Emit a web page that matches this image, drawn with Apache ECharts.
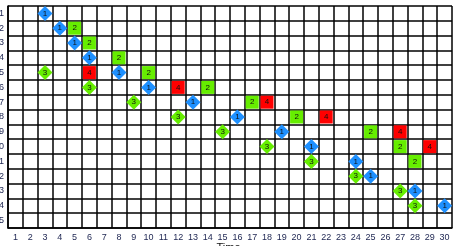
<!DOCTYPE html>
<html><head><meta charset="utf-8">
<script src="https://cdn.jsdelivr.net/npm/echarts@6/dist/echarts.min.js"></script>
<style>html,body{margin:0;padding:0;background:#fff}#c{width:457px;height:246px}</style>
</head><body><div id="c"></div>
<script>
const xLabels = ['1','2','3','4','5','6','7','8','9','10','11','12','13','14','15','16','17','18','19','20','21','22','23','24','25','26','27','28','29','30'];
const yLabels = ['1','2','3','4','5','6','7','8','9','10','11','12','13','14','15'];
const xName = 'Time';
// [column, row] for each mark
const blueOnes = [[3,1],[4,2],[5,3],[6,4],[8,5],[10,6],[13,7],[16,8],[19,9],[21,10],[24,11],[25,12],[28,13],[30,14]];
const greenTwos = [[5,2],[6,3],[8,4],[10,5],[14,6],[17,7],[20,8],[25,9],[27,10],[28,11]];
const greenThrees = [[3,5],[6,6],[9,7],[12,8],[15,9],[18,10],[21,11],[24,12],[27,13],[28,14]];
const redFours = [[6,5],[12,6],[18,7],[22,8],[27,9],[29,10]];

const toData = arr => arr.map(p => [String(p[0]), String(p[1])]);
const lbl = (t) => ({show:true, position:'inside', formatter:t, color:'#111', fontSize:8, fontFamily:'Liberation Sans'});

const chart = echarts.init(document.getElementById('c'));
chart.setOption({
  animation:false,
  grid:{left:8, right:5, top:6, bottom:18, containLabel:false, outerBoundsMode:'none'},
  graphic:[{type:'text', left:'center', top:242, style:{text:xName, fontSize:11, fill:'#111', fontFamily:'Liberation Sans'}}],
  xAxis:{type:'category', data:xLabels, boundaryGap:true,
    axisLine:{show:true, lineStyle:{color:'#000', width:1.5}},
    axisTick:{show:false},
    axisLabel:{interval:0, margin:5, fontSize:9, color:'#1c2450', fontFamily:'Liberation Sans'},
    splitLine:{show:true, interval:0, lineStyle:{color:'#000', width:1.5}}},
  yAxis:{type:'category', data:yLabels, inverse:true, boundaryGap:true,
    axisLine:{show:true, lineStyle:{color:'#000', width:1.5}},
    axisTick:{show:false},
    axisLabel:{interval:0, margin:4, fontSize:9, color:'#1c2450', fontFamily:'Liberation Sans'},
    splitLine:{show:true, interval:0, lineStyle:{color:'#000', width:1.5}}},
  series:[
    {type:'scatter', symbol:'rect', symbolSize:13, itemStyle:{color:'#66ee00', opacity:1}, data:toData(greenTwos), label:lbl('2'), z:3},
    {type:'scatter', symbol:'rect', symbolSize:13, itemStyle:{color:'#ff0000', opacity:1}, data:toData(redFours), label:lbl('4'), z:3},
    {type:'scatter', symbol:'diamond', symbolSize:15, itemStyle:{color:'#66ee00', opacity:1}, data:toData(greenThrees), label:lbl('3'), z:3},
    {type:'scatter', symbol:'diamond', symbolSize:15, itemStyle:{color:'#1e90ff', opacity:1}, data:toData(blueOnes), label:lbl('1'), z:3}
  ]
});
</script></body></html>
